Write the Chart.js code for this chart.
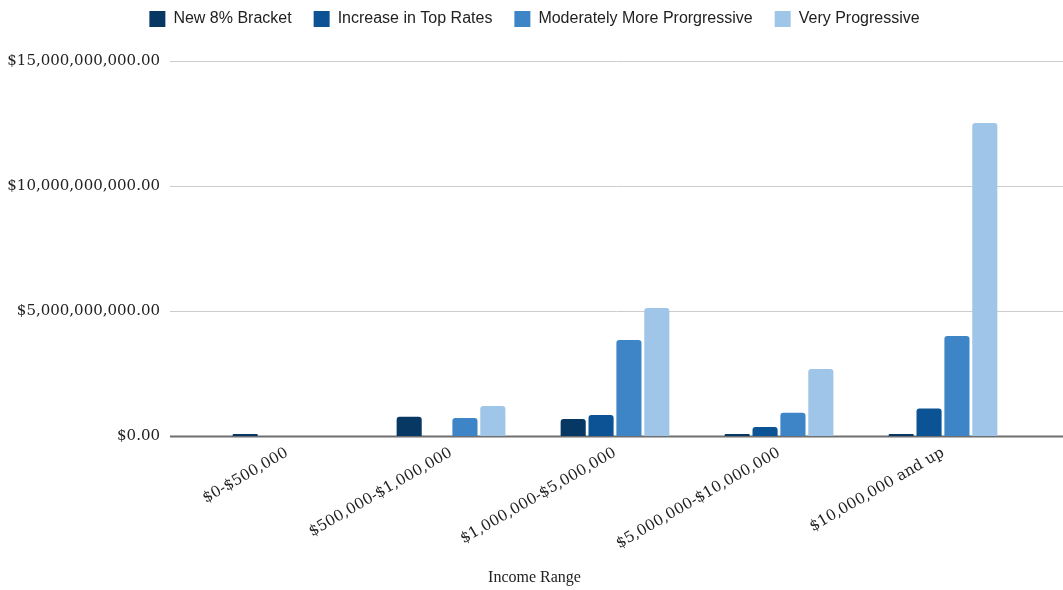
<!DOCTYPE html>
<html>
<head>
<meta charset="utf-8">
<script src="https://cdn.jsdelivr.net/npm/chart.js@4.4.1/dist/chart.umd.min.js"></script>
<style>
  html, body { margin: 0; padding: 0; background: #fff; }
  #wrap { width: 1063px; height: 590px; }
</style>
</head>
<body>
<div id="wrap"><canvas id="taxChart"></canvas></div>
<script>
  // income ranges on the x axis
  const incomeRanges = ['$0-$500,000', '$500,000-$1,000,000', '$1,000,000-$5,000,000', '$5,000,000-$10,000,000', '$10,000,000 and up'];

  // revenue per plan, in dollars
  const newBracket = [80000000, 770000000, 680000000, 80000000, 80000000];
  const topRates = [0, 0, 840000000, 360000000, 1100000000];
  const moderate = [0, 720000000, 3840000000, 930000000, 4000000000];
  const veryProgressive = [0, 1200000000, 5120000000, 2680000000, 12520000000];

  const yTicks = [0, 5000000000, 10000000000, 15000000000];

  const serif = "'DejaVu Serif', serif";

  const money = v => '$' + Number(v).toLocaleString('en-US', { minimumFractionDigits: 2, maximumFractionDigits: 2 });

  // gridlines in the reference run wider than the bar area
  const wideGrid = {
    id: 'wideGrid',
    beforeDatasetsDraw(chart) {
      const { ctx, chartArea, scales } = chart;
      const y = scales.y;
      ctx.save();
      yTicks.forEach(t => {
        const py = Math.round(y.getPixelForValue(t)) + 0.5;
        ctx.beginPath();
        ctx.strokeStyle = t === 0 ? '#6f6f6f' : '#cccccc';
        ctx.lineWidth = t === 0 ? 2 : 1;
        ctx.moveTo(chartArea.left - 35, py);
        ctx.lineTo(chart.width, py);
        ctx.stroke();
      });
      ctx.restore();
    }
  };

  const makeSet = (label, data, color) => ({
    label,
    data,
    backgroundColor: color,
    borderWidth: 0,
    borderRadius: 3,
    barPercentage: 0.9,
    categoryPercentage: 0.68
  });

  // empty axes used only as spacers
  const spacer = (position, size) => ({
    position,
    afterFit: scale => {
      if (position === 'top') scale.height = size; else scale.width = size;
    },
    grid: { display: false, drawTicks: false },
    border: { display: false },
    ticks: { display: false }
  });

  new Chart(document.getElementById('taxChart'), {
    type: 'bar',
    data: {
      labels: incomeRanges,
      datasets: [
        makeSet('New 8% Bracket', newBracket, '#073763'),
        makeSet('Increase in Top Rates', topRates, '#0b5394'),
        makeSet('Moderately More Prorgressive', moderate, '#3d85c6'),
        makeSet('Very Progressive', veryProgressive, '#9fc5e8')
      ]
    },
    options: {
      responsive: true,
      maintainAspectRatio: false,
      animation: false,
      layout: { padding: { left: 6, right: 0, top: -11, bottom: 0 } },
      scales: {
        y: {
          min: 0,
          max: 15000000000,
          afterBuildTicks: scale => { scale.ticks = yTicks.map(v => ({ value: v })); },
          afterFit: scale => { scale.width = 199; },
          grid: { display: false, drawTicks: false },
          border: { display: false },
          ticks: {
            padding: 45,
            color: '#222',
            font: { family: serif, size: 15 },
            callback: v => money(v)
          }
        },
        yRight: spacer('right', 38),
        x: {
          grid: { display: false, drawTicks: false },
          border: { display: false },
          ticks: {
            minRotation: 30,
            maxRotation: 30,
            padding: 8,
            color: '#222',
            font: { family: serif, size: 15 }
          }
        },
        xTop: spacer('top', 24)
      },
      plugins: {
        legend: {
          position: 'top',
          labels: {
            boxWidth: 16,
            boxHeight: 16,
            padding: 22,
            color: '#222',
            font: { family: "'Liberation Sans', Arial, sans-serif", size: 16 }
          }
        },
        title: {
          display: true,
          position: 'bottom',
          text: 'Income Range',
          color: '#222',
          font: { family: "'Liberation Serif', serif", size: 16, weight: 'normal' },
          padding: { top: 7, bottom: 3 }
        },
        tooltip: { enabled: false }
      }
    },
    plugins: [wideGrid]
  });
</script>
</body>
</html>
